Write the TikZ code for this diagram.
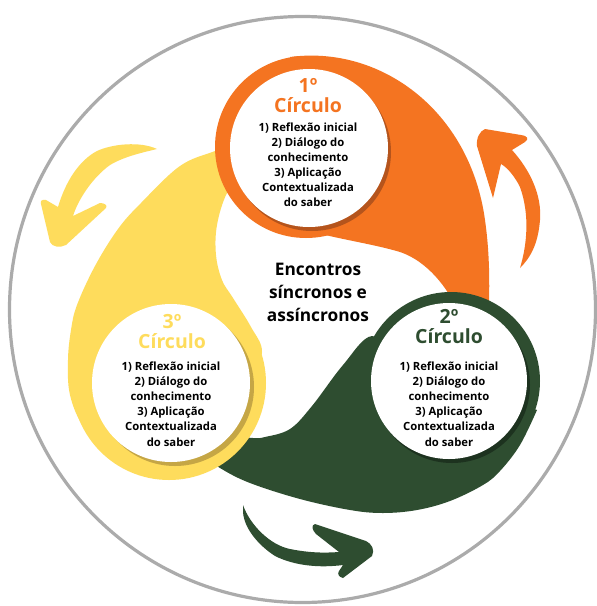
\documentclass[tikz,border=0pt]{standalone}
\usepackage{fontspec}
\setmainfont{Open Sans}
\definecolor{orng}{HTML}{F47421}
\definecolor{orngd}{HTML}{B5541C}
\definecolor{grn}{HTML}{2E4D30}
\definecolor{grnd}{HTML}{1D321F}
\definecolor{ylw}{HTML}{FEDC5C}
\definecolor{ylwd}{HTML}{C5A645}
\definecolor{rim}{HTML}{ABABAB}
\tikzset{
  titletext/.style={font=\fontsize{19.5}{20}\selectfont\bfseries, align=center, inner sep=0pt},
  bodytext/.style={font=\fontsize{11.3}{15.1}\selectfont\bfseries, align=center, text=black, inner sep=0pt},
  centertext/.style={font=\fontsize{17.3}{22.6}\selectfont\bfseries, align=center, text=black, inner sep=0pt},
  smoothline/.style={smooth, tension=0.6}
}
\begin{document}
\begin{tikzpicture}[x=1pt,y=-1pt]
\useasboundingbox (0,0) rectangle (597,606);
\clip (0,0) rectangle (597,606);
\fill[white] (0,0) rectangle (597,606);
% outer ring
\draw[line width=3.2pt, rim] (302.5,309.5) circle[radius=293pt];

% tails
\fill[ylw] plot[smoothline] coordinates {(110,456) (84,428) (70,395) (68,360) (71,330) (77,305) (95,266) (118,229) (141,203) (180,166) (215,151) (245,140)}
  -- plot[smoothline] coordinates {(245,170) (227,193) (217,225) (216,255) (222,280) (233,298) (251,327) (262,352) (250,385)} -- cycle;
\fill[orng] (290,57) .. controls (380,45) and (470,110) .. (485,220)
  .. controls (490,255) and (490,290) .. (488,330) -- (465,330)
  .. controls (455,295) and (430,262) .. (400,252)
  .. controls (370,243) and (330,238) .. (300,228) -- cycle;
\fill[grn] plot[smoothline] coordinates {(537,410) (520,445) (500,471) (483,485) (450,501) (417,510) (383,513) (350,510) (300,499) (250,483) (220,468) (195,450)}
  -- plot[smoothline] coordinates {(225,435) (253,438) (265,437) (290,429) (312,406) (343,365) (372,336) (400,360)} -- cycle;

% rings
\fill[orng] (306,147) circle[radius=91pt];
\fill[grn] (451,381) circle[radius=89pt];
\fill[ylw] (169,383) circle[radius=97pt];
% shadows + white discs
\fill[orngd] (312,152) circle[radius=79pt];
\fill[white] (309,148) circle[radius=79pt];
\fill[grnd] (452,385) circle[radius=78pt];
\fill[white] (449,381) circle[radius=78pt];
\fill[ylwd] (175,387) circle[radius=79pt];
\fill[white] (171,383) circle[radius=79pt];

% arrows
\fill[orng] (485,129) -- (521,135) .. controls (528,136) and (529,139) .. (525,142) -- (512,150)
  .. controls (530,170) and (542,195) .. (540,220) .. controls (538,245) and (530,258) .. (520,268)
  .. controls (527,245) and (530,215) .. (520,187) .. controls (515,177) and (508,168) .. (501,164)
  -- (493,198) -- (477,146) .. controls (476,138) and (480,131) .. (485,129) -- cycle;
\fill[ylw] (157,149) .. controls (140,141) and (112,144) .. (97,151) .. controls (80,160) and (66,180) .. (58,207)
  -- (46,200) .. controls (42,199) and (40,201) .. (41,204) -- (50,242) .. controls (52,247) and (60,248) .. (66,245)
  -- (106,208) .. controls (108,205) and (104,203) .. (100,203) -- (73,216)
  .. controls (78,200) and (92,178) .. (110,165) .. controls (125,156) and (145,152) .. (157,149) -- cycle;
\fill[grn] (243,505) .. controls (250,525) and (270,545) .. (290,549) .. controls (310,553) and (325,553) .. (339,552)
  -- (316,534) .. controls (312,530) and (311,525) .. (315,524) -- (366,541) .. controls (372,544) and (375,550) .. (372,556)
  -- (343,578) .. controls (339,577) and (337,574) .. (339,571) -- (343,565)
  .. controls (320,568) and (295,566) .. (275,556) .. controls (258,545) and (244,528) .. (243,512) -- cycle;

% texts
\node[titletext, text=orng] (t1) at (308,95.5) {1º\\Círculo};
\node[bodytext] (b1) at (308,164.5) {1) Reflexão inicial\\2) Diálogo do\\conhecimento\\3) Aplicação\\Contextualizada\\do saber};
\node[titletext, text=grn] (t2) at (449,326.5) {2º\\Círculo};
\node[bodytext] (b2) at (449,404) {1) Reflexão inicial\\2) Diálogo do\\conhecimento\\3) Aplicação\\Contextualizada\\do saber};
\node[titletext, text=ylw] (t3) at (172,331.5) {3º\\Círculo};
\node[bodytext] (b3) at (171,404) {1) Reflexão inicial\\2) Diálogo do\\conhecimento\\3) Aplicação\\Contextualizada\\do saber};
\node[centertext] (c) at (318,292.5) {Encontros\\síncronos e\\assíncronos};
\end{tikzpicture}
\end{document}
